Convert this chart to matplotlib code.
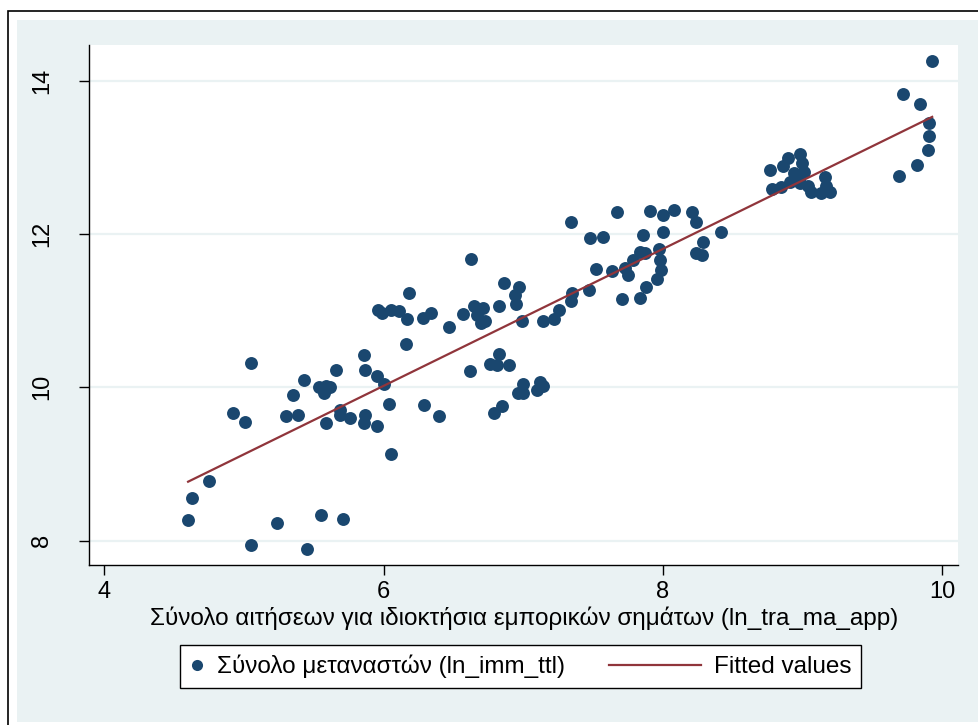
import numpy as np
import matplotlib.pyplot as plt
from matplotlib.patches import Rectangle
from matplotlib.lines import Line2D
from matplotlib.legend_handler import HandlerBase

# ln_tra_ma_app (x) and ln_imm_ttl (y)
ln_tra_ma_app = [
    4.60, 4.63, 4.75, 4.92, 5.01, 5.05, 5.05, 5.24, 5.30, 5.35,
    5.39, 5.43, 5.45, 5.55, 5.54, 5.59, 5.57, 5.62, 5.66, 5.59,
    5.69, 5.69, 5.71, 5.76, 5.86, 5.87, 5.87, 5.86, 5.95, 5.95,
    6.00, 6.04, 6.05, 5.96, 5.99, 6.05, 6.11, 6.17, 6.18, 6.16,
    6.28, 6.34, 6.29, 6.40, 6.47, 6.57, 6.63, 6.62, 6.65, 6.71,
    6.67, 6.70, 6.73, 6.76, 6.83, 6.81, 6.90, 6.79, 6.85, 6.86,
    6.97, 6.94, 6.95, 6.83, 6.99, 7.00, 6.96, 7.00, 7.12, 7.14,
    7.10, 7.14, 7.22, 7.26, 7.34, 7.35, 7.47, 7.34, 7.48, 7.57,
    7.52, 7.64, 7.67, 7.73, 7.75, 7.71, 7.79, 7.84, 7.87, 7.86,
    7.88, 7.84, 7.91, 8.00, 8.00, 7.97, 7.98, 7.99, 7.96, 8.08,
    8.21, 8.24, 8.29, 8.24, 8.28, 8.42, 8.77, 8.86, 8.90, 8.98,
    9.00, 9.01, 8.94, 8.78, 8.85, 8.91, 8.96, 8.98, 9.04, 9.06,
    9.13, 9.16, 9.17, 9.20, 9.69, 9.82, 9.90, 9.91, 9.91, 9.72,
    9.84, 9.93,
]
ln_imm_ttl = [
    8.27, 8.56, 8.78, 9.66, 9.55, 10.32, 7.95, 8.23, 9.62, 9.90,
    9.64, 10.10, 7.89, 8.33, 10.00, 10.02, 9.92, 10.01, 10.23, 9.54,
    9.70, 9.64, 8.28, 9.60, 10.42, 10.23, 9.64, 9.54, 10.15, 9.49,
    10.04, 9.78, 9.13, 11.01, 10.97, 11.01, 10.99, 10.89, 11.23, 10.57,
    10.90, 10.97, 9.77, 9.63, 10.78, 10.96, 11.67, 10.21, 11.06, 11.03,
    10.94, 10.84, 10.87, 10.31, 10.44, 10.29, 10.29, 9.67, 9.75, 11.36,
    11.31, 11.20, 11.09, 11.06, 10.86, 10.04, 9.93, 9.92, 10.07, 10.02,
    9.96, 10.86, 10.89, 11.01, 11.13, 11.23, 11.27, 12.15, 11.95, 11.96,
    11.54, 11.51, 12.28, 11.55, 11.47, 11.15, 11.66, 11.77, 11.75, 11.99,
    11.31, 11.17, 12.30, 12.24, 12.02, 11.80, 11.66, 11.53, 11.41, 12.31,
    12.29, 12.15, 11.89, 11.75, 11.72, 12.02, 12.83, 12.88, 12.99, 13.04,
    12.92, 12.81, 12.79, 12.59, 12.61, 12.68, 12.72, 12.66, 12.62, 12.54,
    12.53, 12.74, 12.62, 12.54, 12.75, 12.90, 13.09, 13.28, 13.44, 13.83,
    13.69, 14.25,
]

xticks = [4, 6, 8, 10]
yticks = [8, 10, 12, 14]
xlabel = "Σύνολο αιτήσεων για ιδιοκτήσια εμπορικών σημάτων (ln_tra_ma_app)"
label_pts = "Σύνολο μεταναστών (ln_imm_ttl)"
label_fit = "Fitted values"

navy = "#1a476f"
maroon = "#90353b"
bg = "#eaf2f3"
fs = 17.5

plt.rcParams['font.family'] = ['Liberation Sans', 'DejaVu Sans']


class LongLine(HandlerBase):
    # legend line that reaches left past its small handle box (Stata style)
    def create_artists(self, legend, orig_handle, xdescent, ydescent,
                       width, height, fontsize, trans):
        x1 = width - xdescent
        x0 = x1 - 3.8 * fontsize
        yc = (height - ydescent) / 2
        ln = Line2D([x0, x1], [yc, yc], color=orig_handle.get_color(),
                    lw=orig_handle.get_linewidth())
        ln.set_transform(trans)
        return [ln]


x = np.array(ln_tra_ma_app)
y = np.array(ln_imm_ttl)
b, a = np.polyfit(x, y, 1)
xf = np.array([x.min(), x.max()])
yf = a + b * xf

fig = plt.figure(figsize=(9.79, 7.25), dpi=100)
fig.patch.set_facecolor("white")
fig.patches.append(Rectangle((17/979, 1 - 722/725), 1.0, (722 - 20)/725,
                             transform=fig.transFigure, facecolor=bg,
                             edgecolor="none", zorder=-10))
fig.patches.append(Rectangle((8/979, -0.05), 1.2, 1.05 - 11/725,
                             transform=fig.transFigure, facecolor="none",
                             edgecolor="black", lw=1.2, zorder=-9))

ax = fig.add_axes([89.4/979, 1 - 565/725, (958.3 - 89.4)/979, (565 - 45)/725])
ax.set_facecolor("white")
ax.set_xlim(3.893, 10.117)
ax.set_ylim(7.683, 14.463)

for yt in yticks:
    ax.axhline(yt, color=bg, lw=1.6, zorder=1)

ax.plot(x, y, 'o', color=navy, markersize=9.3, markeredgewidth=0, zorder=3)
fit, = ax.plot(xf, yf, color=maroon, lw=1.6, zorder=4)

for s in ['top', 'right']:
    ax.spines[s].set_visible(False)
for s in ['left', 'bottom']:
    ax.spines[s].set_linewidth(1.0)

ax.set_xticks(xticks)
ax.set_yticks(yticks)
ax.tick_params(axis='x', length=7.2, width=1, pad=4.5, labelsize=17)
ax.tick_params(axis='y', length=7.2, width=1, pad=19, labelsize=17)
for lab in ax.get_yticklabels():
    lab.set_rotation(90)
    lab.set_va('center')
ax.set_xlabel(xlabel, fontsize=fs, labelpad=2)

dot = Line2D([], [], marker='o', ls='none', color=navy, markersize=8, markeredgewidth=0)
leg = fig.legend([dot, fit], [label_pts, label_fit], ncol=2, loc='center',
                 bbox_to_anchor=(520.5/979, 1 - 666.5/725), fontsize=fs,
                 frameon=True, fancybox=False, edgecolor='black', framealpha=1,
                 handlelength=0.6, columnspacing=5.0, handletextpad=0.53,
                 borderpad=0.4, handler_map={fit: LongLine()})
leg.get_frame().set_linewidth(1.0)

fig.savefig("out.png", dpi=100)
